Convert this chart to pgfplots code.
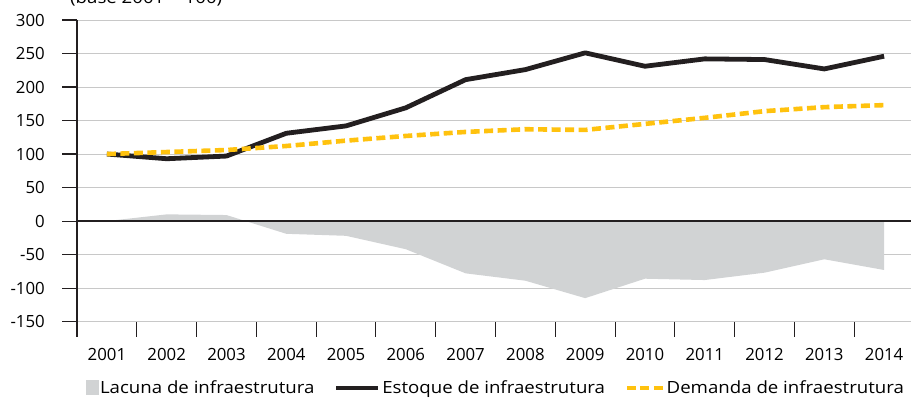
\documentclass[border=0pt]{standalone}
\usepackage{fontspec}
\setmainfont{Open Sans}
\newfontfamily\widefont[FakeStretch=1.11]{Open Sans}
\usepackage{pgfplots}
\usepackage{pgfplotstable}
\pgfplotsset{compat=1.18}

\definecolor{stockc}{HTML}{231F20}
\definecolor{demc}{HTML}{FFC20E}
\definecolor{gapc}{HTML}{D1D3D4}
\definecolor{gridc}{HTML}{C8C8C8}

% gap = demanda - estoque
\pgfplotstableread{
x  year stock demand gap
1  2001 100   100    0
2  2002  93   103   10
3  2003  97   106    9
4  2004 131   112  -19
5  2005 142   120  -22
6  2006 169   127  -42
7  2007 211   133  -78
8  2008 226   137  -89
9  2009 251   136 -115
10 2010 231   145  -86
11 2011 242   154  -88
12 2012 241   164  -77
13 2013 227   170  -57
14 2014 246   173  -73
}\data

\begin{document}
\begin{tikzpicture}[font=\fontsize{16.8}{20}\selectfont]
\begin{axis}[
  scale only axis, width=837pt, height=301.6pt,
  xmin=0.5, xmax=14.5, ymin=-150, ymax=300,
  ytick={-150,-100,...,300},
  xtick={0.5,1.5,...,14.5},
  x tick label as interval,
  xticklabels={2001,2002,2003,2004,2005,2006,2007,2008,2009,2010,2011,2012,2013,2014},
  axis x line*=bottom, axis y line*=left,
  x axis line style={draw=gridc, line width=0.9pt},
  y axis line style={draw=stockc, line width=1.1pt},
  ymajorgrids, major grid style={gridc, line width=0.9pt},
  tick align=outside, major tick length=15pt,
  tick style={draw=stockc, line width=1.1pt},
  /pgf/number format/assume math mode=true,
  tick label style={font=\fontsize{16.8}{20}\selectfont},
  yticklabel style={anchor=east, inner sep=0pt, xshift=-17pt},
  xticklabel style={anchor=base, inner sep=0pt, yshift=-23.5pt},
  legend columns=3,
  legend style={at={(0.5,-0.22)}, anchor=center, draw=none, fill=none,
    font=\widefont\fontsize{16.8}{20}\selectfont,
    /tikz/every even column/.append style={column sep=18pt},
    nodes={inner xsep=1.5pt}},
]
\addplot[fill=gapc, draw=none,
  legend image code/.code={\fill[gapc] (0pt,-7.5pt) rectangle (13pt,7.5pt);}]
  table[x=x, y=gap]{\data} \closedcycle;
\addlegendentry{Lacuna de infraestrutura}
\addplot[stockc, line width=1.2pt, forget plot] coordinates {(0.5,0) (14.5,0)};
\addplot[stockc, line width=4.8pt, line join=round,
  legend image code/.code={\draw[stockc, line width=4.8pt] (0pt,0pt) -- (42pt,0pt);}]
  table[x=x, y=stock]{\data};
\addlegendentry{Estoque de infraestrutura}
\addplot[demc, line width=4.6pt, dash pattern=on 9pt off 4.5pt,
  legend image code/.code={\draw[demc, line width=4.6pt, dash pattern=on 9pt off 4.5pt] (0pt,0pt) -- (36pt,0pt);}]
  table[x=x, y=demand]{\data};
\addlegendentry{Demanda de infraestrutura}
\end{axis}
\node[anchor=base west, inner sep=0pt, font=\widefont\fontsize{16.8}{20}\selectfont] at (-7pt,318.3pt) {(base 2001 = 100)};
\pgfresetboundingbox
\useasboundingbox (-77pt,-83.4pt) rectangle (834pt,321.6pt);
\end{tikzpicture}
\end{document}
